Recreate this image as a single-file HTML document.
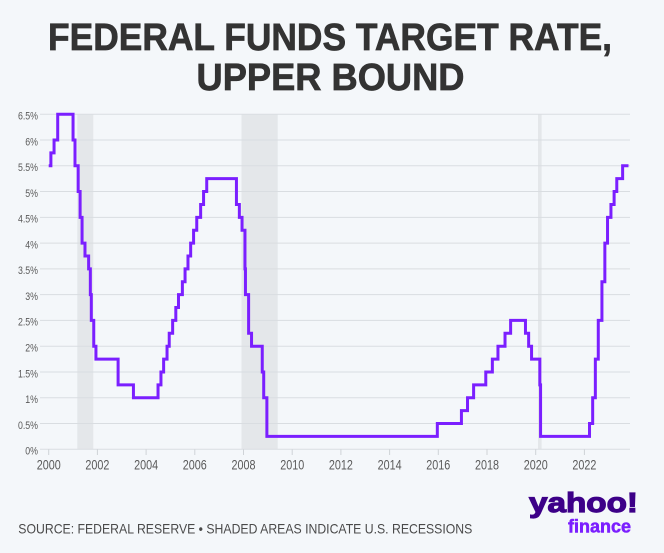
<!DOCTYPE html>
<html>
<head>
<meta charset="utf-8">
<style>
html,body{margin:0;padding:0;background:#f4f7fa;}
svg{display:block;}
</style>
</head>
<body>
<svg width="664" height="553" viewBox="0 0 664 553" xmlns="http://www.w3.org/2000/svg">
<rect x="0" y="0" width="664" height="553" fill="#f4f7fa"/>
<!-- Title -->
<g font-family="'Liberation Sans', sans-serif" font-weight="bold" fill="#333333" stroke="#333333" stroke-width="0.7" font-size="38">
<text x="48" y="50" textLength="564" lengthAdjust="spacingAndGlyphs">FEDERAL FUNDS TARGET RATE,</text>
<text x="196.5" y="90" textLength="268" lengthAdjust="spacingAndGlyphs">UPPER BOUND</text>
</g>
<!-- Recession shading -->
<g fill="#e4e7ea">
<rect x="77.3" y="114.2" width="16" height="335.1"/>
<rect x="241.5" y="114.2" width="36.2" height="335.1"/>
<rect x="538" y="114.2" width="3.6" height="335.1"/>
</g>
<!-- Gridlines -->
<g stroke="#d9dde1" stroke-width="1">
<line x1="40" x2="630" y1="114.23" y2="114.23"/>
<line x1="40" x2="630" y1="140.0" y2="140.0"/>
<line x1="40" x2="630" y1="165.78" y2="165.78"/>
<line x1="40" x2="630" y1="191.55" y2="191.55"/>
<line x1="40" x2="630" y1="217.33" y2="217.33"/>
<line x1="40" x2="630" y1="243.1" y2="243.1"/>
<line x1="40" x2="630" y1="268.88" y2="268.88"/>
<line x1="40" x2="630" y1="294.65" y2="294.65"/>
<line x1="40" x2="630" y1="320.43" y2="320.43"/>
<line x1="40" x2="630" y1="346.2" y2="346.2"/>
<line x1="40" x2="630" y1="371.98" y2="371.98"/>
<line x1="40" x2="630" y1="397.75" y2="397.75"/>
<line x1="40" x2="630" y1="423.53" y2="423.53"/>
<line x1="40" x2="630" y1="449.3" y2="449.3"/>
</g>
<!-- X ticks -->
<g stroke="#cfd3d7" stroke-width="1">
<line x1="48.7" x2="48.7" y1="449.3" y2="455"/>
<line x1="97.4" x2="97.4" y1="449.3" y2="455"/>
<line x1="146.1" x2="146.1" y1="449.3" y2="455"/>
<line x1="194.8" x2="194.8" y1="449.3" y2="455"/>
<line x1="243.5" x2="243.5" y1="449.3" y2="455"/>
<line x1="292.2" x2="292.2" y1="449.3" y2="455"/>
<line x1="340.9" x2="340.9" y1="449.3" y2="455"/>
<line x1="389.6" x2="389.6" y1="449.3" y2="455"/>
<line x1="438.3" x2="438.3" y1="449.3" y2="455"/>
<line x1="487.0" x2="487.0" y1="449.3" y2="455"/>
<line x1="535.7" x2="535.7" y1="449.3" y2="455"/>
<line x1="584.4" x2="584.4" y1="449.3" y2="455"/>
</g>
<!-- Y labels -->
<g font-family="'Liberation Sans', sans-serif" font-size="11" fill="#5a5a5a" text-anchor="end" transform="translate(38,0) scale(0.8,1)">
<text x="0" y="119.5">6.5%</text>
<text x="0" y="145.3">6%</text>
<text x="0" y="171.1">5.5%</text>
<text x="0" y="196.9">5%</text>
<text x="0" y="222.6">4.5%</text>
<text x="0" y="248.4">4%</text>
<text x="0" y="274.2">3.5%</text>
<text x="0" y="300.0">3%</text>
<text x="0" y="325.7">2.5%</text>
<text x="0" y="351.5">2%</text>
<text x="0" y="377.3">1.5%</text>
<text x="0" y="403.1">1%</text>
<text x="0" y="428.8">0.5%</text>
<text x="0" y="454.6">0%</text>
</g>
<!-- X labels -->
<g font-family="'Liberation Sans', sans-serif" font-size="13.5" fill="#5a5a5a" text-anchor="middle">
<text transform="translate(48.7,469.3) scale(0.8,1)">2000</text>
<text transform="translate(97.4,469.3) scale(0.8,1)">2002</text>
<text transform="translate(146.1,469.3) scale(0.8,1)">2004</text>
<text transform="translate(194.8,469.3) scale(0.8,1)">2006</text>
<text transform="translate(243.5,469.3) scale(0.8,1)">2008</text>
<text transform="translate(292.2,469.3) scale(0.8,1)">2010</text>
<text transform="translate(340.9,469.3) scale(0.8,1)">2012</text>
<text transform="translate(389.6,469.3) scale(0.8,1)">2014</text>
<text transform="translate(438.3,469.3) scale(0.8,1)">2016</text>
<text transform="translate(487.0,469.3) scale(0.8,1)">2018</text>
<text transform="translate(535.7,469.3) scale(0.8,1)">2020</text>
<text transform="translate(584.4,469.3) scale(0.8,1)">2022</text>
</g>
<!-- Series -->
<path fill="none" stroke="#7b1fff" stroke-width="3" stroke-linejoin="miter" stroke-linecap="butt"
d="M48.7,165.78 H50.89 V152.89 H54.06 V140 H57.71 V114.23 H73.05 V140 H75 V165.78 H78.16 V191.55 H80.11 V217.33 H82.06 V243.1 H84.98 V255.99 H88.63 V268.88 H90.34 V294.65 H91.31 V320.43 H93.75 V346.2 H95.94 V359.09 H118.1 V384.86 H133.44 V397.75 H158.03 V384.86 H160.95 V371.98 H163.63 V359.09 H167.04 V346.2 H169.23 V333.31 H172.64 V320.43 H175.81 V307.54 H178.49 V294.65 H182.38 V281.76 H185.06 V268.88 H187.98 V255.99 H190.66 V243.1 H193.58 V230.21 H196.75 V217.33 H200.64 V204.44 H203.57 V191.55 H206.73 V178.66 H236.44 V204.44 H239.36 V217.33 H242.04 V230.21 H244.96 V268.88 H245.45 V294.65 H248.61 V333.31 H251.54 V346.2 H262.25 V371.98 H263.71 V397.75 H266.88 V436.41 H437.33 V423.53 H461.43 V410.64 H467.52 V397.75 H473.61 V384.86 H485.78 V371.98 H492.36 V359.09 H497.96 V346.2 H505.02 V333.31 H510.62 V320.43 H525.47 V333.31 H528.64 V346.2 H531.56 V359.09 H539.84 V384.86 H540.57 V436.41 H589.51 V423.53 H592.67 V397.75 H595.35 V359.09 H598.28 V320.43 H601.93 V281.76 H604.85 V243.1 H607.53 V217.33 H610.94 V204.44 H614.11 V191.55 H616.78 V178.66 H622.63 V165.78 H628.5"/>
<!-- Footer -->
<text x="18.3" y="533.3" font-family="'Liberation Sans', sans-serif" font-size="14" fill="#4a4a4a" textLength="454" lengthAdjust="spacingAndGlyphs">SOURCE: FEDERAL RESERVE • SHADED AREAS INDICATE U.S. RECESSIONS</text>
<!-- Logo -->
<text x="529" y="512" font-family="'Liberation Sans', sans-serif" font-weight="bold" font-size="28" fill="#3d0088" stroke="#3d0088" stroke-width="1.2" textLength="109" lengthAdjust="spacingAndGlyphs">yahoo!</text>
<text x="568" y="532.3" font-family="'Liberation Sans', sans-serif" font-weight="bold" font-size="18" fill="#7b1fff" stroke="#7b1fff" stroke-width="0.5" textLength="63" lengthAdjust="spacingAndGlyphs">finance</text>
</svg>
</body>
</html>
